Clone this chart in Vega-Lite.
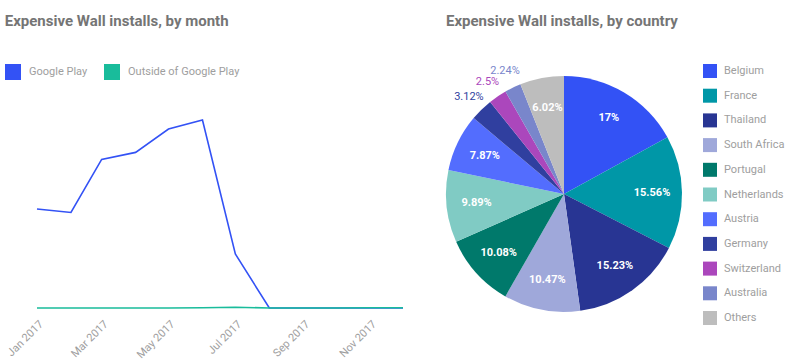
{
  "$schema": "https://vega.github.io/schema/vega-lite/v6.json",
  "padding": {"left": 4, "top": 13, "right": 5, "bottom": 5},
  "background": "white",
  "bounds": "flush",
  "config": {
    "view": {"stroke": null},
    "font": "Roboto",
    "title": {"font": "Roboto", "fontSize": 15, "fontWeight": "bold", "color": "#757575", "anchor": "start"},
    "legend": {"labelFont": "Roboto", "labelColor": "#9e9e9e", "labelFontSize": 11}
  },
  "spacing": 43,
  "resolve": {"scale": {"color": "independent"}, "legend": {"color": "independent"}},
  "hconcat": [
    {
      "title": {"text": "Expensive Wall installs, by month", "offset": 35.5},
      "width": 366,
      "height": 248,
      "data": {"values": [
        {"month": "2017-01-01", "series": "Google Play", "installs": 990},
        {"month": "2017-02-01", "series": "Google Play", "installs": 955},
        {"month": "2017-03-01", "series": "Google Play", "installs": 1486},
        {"month": "2017-04-01", "series": "Google Play", "installs": 1556},
        {"month": "2017-05-01", "series": "Google Play", "installs": 1790},
        {"month": "2017-06-01", "series": "Google Play", "installs": 1880},
        {"month": "2017-07-01", "series": "Google Play", "installs": 540},
        {"month": "2017-08-01", "series": "Google Play", "installs": 0},
        {"month": "2017-09-01", "series": "Google Play", "installs": 0},
        {"month": "2017-10-01", "series": "Google Play", "installs": 0},
        {"month": "2017-11-01", "series": "Google Play", "installs": 0},
        {"month": "2017-12-01", "series": "Google Play", "installs": 0},
        {"month": "2017-01-01", "series": "Outside of Google Play", "installs": 0},
        {"month": "2017-02-01", "series": "Outside of Google Play", "installs": 0},
        {"month": "2017-03-01", "series": "Outside of Google Play", "installs": 0},
        {"month": "2017-04-01", "series": "Outside of Google Play", "installs": 0},
        {"month": "2017-05-01", "series": "Outside of Google Play", "installs": 0},
        {"month": "2017-06-01", "series": "Outside of Google Play", "installs": 3},
        {"month": "2017-07-01", "series": "Outside of Google Play", "installs": 8},
        {"month": "2017-08-01", "series": "Outside of Google Play", "installs": 0},
        {"month": "2017-09-01", "series": "Outside of Google Play", "installs": 0},
        {"month": "2017-10-01", "series": "Outside of Google Play", "installs": 0},
        {"month": "2017-11-01", "series": "Outside of Google Play", "installs": 2},
        {"month": "2017-12-01", "series": "Outside of Google Play", "installs": 2}
      ]},
      "mark": {"type": "line", "strokeWidth": 1.6},
      "encoding": {
        "x": {
          "field": "month", "type": "temporal",
          "scale": {"type": "utc"},
          "axis": {
            "title": null, "format": "%b %Y", "labelAngle": -45,
            "tickCount": {"interval": "month", "step": 2},
            "domain": false, "ticks": false, "grid": false,
            "labelColor": "#9e9e9e", "labelFontSize": 11, "labelFont": "Roboto", "labelPadding": 6
          }
        },
        "y": {
          "field": "installs", "type": "quantitative",
          "scale": {"domain": [-40, 2440], "nice": false, "zero": false},
          "axis": null
        },
        "color": {
          "field": "series", "type": "nominal",
          "scale": {"domain": ["Google Play", "Outside of Google Play"], "range": ["#3352f5", "#19bc9b"]},
          "legend": {
            "title": null, "orient": "none", "direction": "horizontal",
            "legendX": -32, "legendY": 0,
            "symbolType": "square", "symbolSize": 64, "symbolStrokeWidth": 8,
            "labelOffset": 8, "columnPadding": 4
          }
        }
      }
    },
    {
      "title": {"text": "Expensive Wall installs, by country", "offset": 25.5, "frame": "group"},
      "width": 236,
      "height": 260,
      "data": {"values": [
        {"country": "Belgium", "share": 17, "label": "17%", "ord": 1},
        {"country": "France", "share": 15.56, "label": "15.56%", "ord": 2},
        {"country": "Thailand", "share": 15.23, "label": "15.23%", "ord": 3},
        {"country": "South Africa", "share": 10.47, "label": "10.47%", "ord": 4},
        {"country": "Portugal", "share": 10.08, "label": "10.08%", "ord": 5},
        {"country": "Netherlands", "share": 9.89, "label": "9.89%", "ord": 6},
        {"country": "Austria", "share": 7.87, "label": "7.87%", "ord": 7},
        {"country": "Germany", "share": 3.12, "label": "3.12%", "ord": 8},
        {"country": "Switzerland", "share": 2.5, "label": "2.5%", "ord": 9},
        {"country": "Australia", "share": 2.24, "label": "2.24%", "ord": 10},
        {"country": "Others", "share": 6.02, "label": "6.02%", "ord": 11}
      ]},
      "encoding": {
        "theta": {"field": "share", "type": "quantitative", "stack": true},
        "order": {"field": "ord", "type": "quantitative"},
        "color": {
          "field": "country", "type": "nominal",
          "scale": {
            "domain": ["Belgium", "France", "Thailand", "South Africa", "Portugal", "Netherlands", "Austria", "Germany", "Switzerland", "Australia", "Others"],
            "range": ["#3352f5", "#0097a7", "#283593", "#9fa8da", "#00796b", "#80cbc4", "#536dfe", "#303f9f", "#ab47bc", "#7986cb", "#bdbdbd"]
          },
          "legend": {
            "title": null, "orient": "right", "offset": 21,
            "symbolType": "square", "symbolSize": 196, "symbolStrokeWidth": 0,
            "labelOffset": 7, "rowPadding": 10.7
          }
        }
      },
      "layer": [
        {"mark": {"type": "arc", "outerRadius": 118}},
        {
          "mark": {"type": "text", "radius": 88, "fontWeight": "bold", "fontSize": 11, "font": "Roboto"},
          "encoding": {
            "text": {"condition": {"test": "datum.share > 5", "field": "label"}, "value": ""},
            "color": {"value": "white"}
          }
        },
        {
          "mark": {"type": "text", "radius": 136, "fontSize": 11, "font": "Roboto"},
          "encoding": {
            "text": {"condition": {"test": "datum.share <= 5", "field": "label"}, "value": ""}
          }
        }
      ]
    }
  ]
}
